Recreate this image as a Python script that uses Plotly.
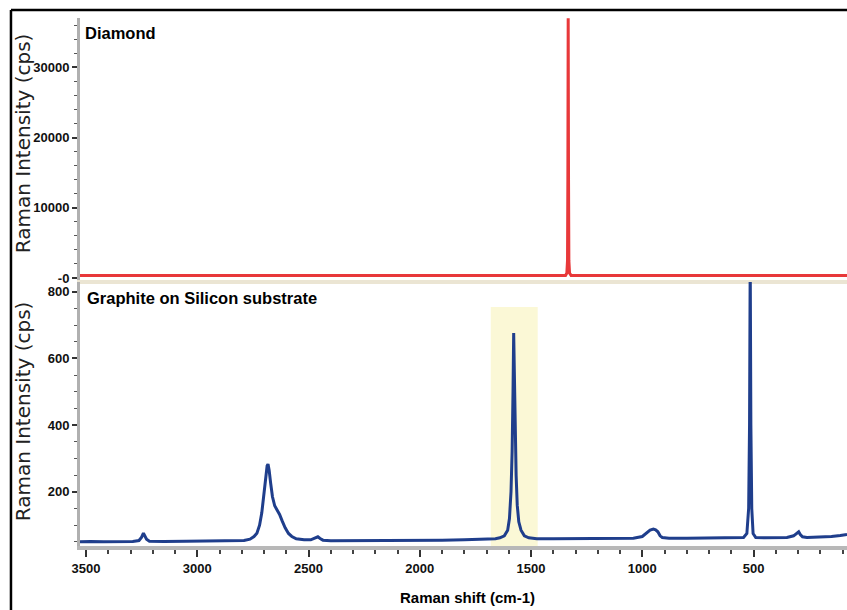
import plotly.graph_objects as go
from plotly.subplots import make_subplots

# ---- data ----
diamond_shift = [3527, 2500, 1360, 1345, 1339, 1336, 1334.5, 1333, 1331.5, 1330, 1327, 1320, 800, 80]
diamond_int = [360, 360, 360, 370, 700, 2500, 14000, 37000, 14000, 2500, 700, 370, 360, 360]

graphite_shift = [3527, 3480, 3420, 3350, 3290, 3262, 3250, 3242, 3236, 3228, 3215, 3150, 3050, 2950,
                  2850, 2790, 2763, 2745, 2732, 2720, 2710, 2700, 2692, 2686, 2682, 2677, 2670, 2662,
                  2652, 2640, 2630, 2618, 2605, 2590, 2575, 2555, 2520, 2490, 2470, 2458, 2448, 2435,
                  2400, 2300, 2200, 2100, 2000, 1900, 1800, 1700, 1660, 1640, 1620, 1605, 1597, 1590,
                  1585, 1581, 1578, 1575, 1571, 1567, 1562, 1555, 1545, 1530, 1510, 1474, 1400, 1300,
                  1200, 1100, 1040, 1000, 980, 965, 950, 940, 930, 920, 910, 880, 800, 700, 600, 545,
                  530, 522, 518, 515, 512, 508, 502, 490, 450, 400, 350, 320, 305, 297, 290, 280, 260,
                  200, 150, 110, 80]
graphite_int = [50, 51, 50, 51, 51, 54, 64, 76, 70, 58, 52, 51, 52, 52,
                53, 54, 58, 66, 76, 100, 137, 190, 250, 278, 283, 265, 225, 185,
                158, 143, 132, 112, 92, 75, 66, 59, 56, 56, 61, 65, 60, 55,
                53, 53, 53, 54, 54, 55, 56, 57, 59, 62, 68, 85, 120, 200,
                320, 500, 676, 560, 380, 250, 160, 110, 85, 68, 62, 59, 59, 59,
                59, 60, 61, 66, 78, 85, 88, 86, 80, 68, 63, 61, 61, 61, 62, 63,
                75, 150, 400, 900, 400, 150, 75, 63, 62, 62, 63, 68, 76, 80, 72, 65, 63,
                64, 66, 69, 72]

highlight_range = [1681, 1470]
highlight_top = 754

x_ticks = [3500, 3000, 2500, 2000, 1500, 1000, 500]
top_ticks = [0, 10000, 20000, 30000]
top_tick_text = ["-0", "10000", "20000", "30000"]
bottom_ticks = [200, 400, 600, 800]

# ---- figure ----
fig = make_subplots(rows=2, cols=1, shared_xaxes=True, vertical_spacing=0.0)

fig.add_trace(go.Scatter(x=diamond_shift, y=diamond_int, mode="lines",
                         line=dict(color="#e8383a", width=3), showlegend=False), row=1, col=1)
fig.add_trace(go.Scatter(x=graphite_shift, y=graphite_int, mode="lines",
                         line=dict(color="#1f3e8c", width=3), showlegend=False), row=2, col=1)

FONT = "Liberation Sans, Arial, sans-serif"
tickfont = dict(family=FONT, size=13, color="#111111", weight="bold")

fig.update_layout(
    width=847, height=610,
    margin=dict(l=80, r=0, t=18, b=64),
    paper_bgcolor="white", plot_bgcolor="white",
    xaxis=dict(domain=[0, 1], range=[3527, 80], showline=True, linecolor="#ebe5d3", linewidth=4,
               showticklabels=False, ticks="", showgrid=False, zeroline=False),
    xaxis2=dict(domain=[0, 1], range=[3527, 80], showline=True, linecolor="#b8b8b8", linewidth=4,
                tickvals=x_ticks, ticks="outside", ticklen=7, tickwidth=1.5, tickcolor="#333333",
                minor=dict(dtick=100, tick0=0, ticks="outside", ticklen=4, tickcolor="#444444", tickwidth=1.5),
                tickfont=tickfont, showgrid=False, zeroline=False, showticklabels=True),
    yaxis=dict(domain=[0.5038, 1], range=[-285, 37040], showline=True, linecolor="#b0b0b0", linewidth=3,
               tickvals=top_ticks, ticktext=top_tick_text, ticks="outside", ticklen=5, tickwidth=1.5,
               tickcolor="#333333",
               minor=dict(dtick=2000, ticks="outside", ticklen=3, tickcolor="#555555", tickwidth=1),
               tickfont=tickfont, showgrid=False, zeroline=False),
    yaxis2=dict(domain=[0, 0.5], range=[37.5, 829], showline=True, linecolor="#b0b0b0", linewidth=3,
                tickvals=bottom_ticks, ticks="outside", ticklen=5, tickwidth=1.5, tickcolor="#333333",
                minor=dict(dtick=50, ticks="outside", ticklen=3, tickcolor="#555555", tickwidth=1),
                tickfont=tickfont, showgrid=False, zeroline=False),
)

# highlight band on G peak
fig.add_shape(type="rect", xref="x2", yref="y2", x0=highlight_range[0], x1=highlight_range[1],
              y0=37.5, y1=highlight_top, fillcolor="#fbf8d6", line=dict(width=0), layer="below")

# outer frame lines (left and top)
fig.add_shape(type="line", xref="paper", yref="paper", x0=-0.0900, x1=-0.0900, y0=1.0152, y1=-0.125,
              line=dict(color="black", width=2.5))
fig.add_shape(type="line", xref="paper", yref="paper", x0=-0.0900, x1=1.0, y0=1.0152, y1=1.0152,
              line=dict(color="black", width=2.5))

label_font = dict(family=FONT, size=16.5, color="#000000", weight="bold")
fig.add_annotation(text="Diamond", xref="paper", yref="paper", x=0.004, y=0.9716,
                   xanchor="left", yanchor="middle", showarrow=False, font=label_font)
fig.add_annotation(text="Graphite on Silicon substrate", xref="paper", yref="paper", x=0.0065, y=0.4697,
                   xanchor="left", yanchor="middle", showarrow=False, font=label_font)
fig.add_annotation(text="Raman shift (cm-1)", xref="paper", yref="paper", x=0.5046, y=-0.0966,
                   xanchor="center", yanchor="middle", showarrow=False,
                   font=dict(family=FONT, size=15, color="#000000", weight="bold"))
ytitle_font = dict(family="DejaVu Sans, sans-serif", size=20, color="#222222")
fig.add_annotation(text="Raman Intensity (cps)", xref="paper", yref="paper", x=-0.0740, y=0.7633,
                   xanchor="center", yanchor="middle", textangle=-90, showarrow=False, font=ytitle_font)
fig.add_annotation(text="Raman Intensity (cps)", xref="paper", yref="paper", x=-0.0740, y=0.2557,
                   xanchor="center", yanchor="middle", textangle=-90, showarrow=False, font=ytitle_font)

fig.write_html("out.html")
